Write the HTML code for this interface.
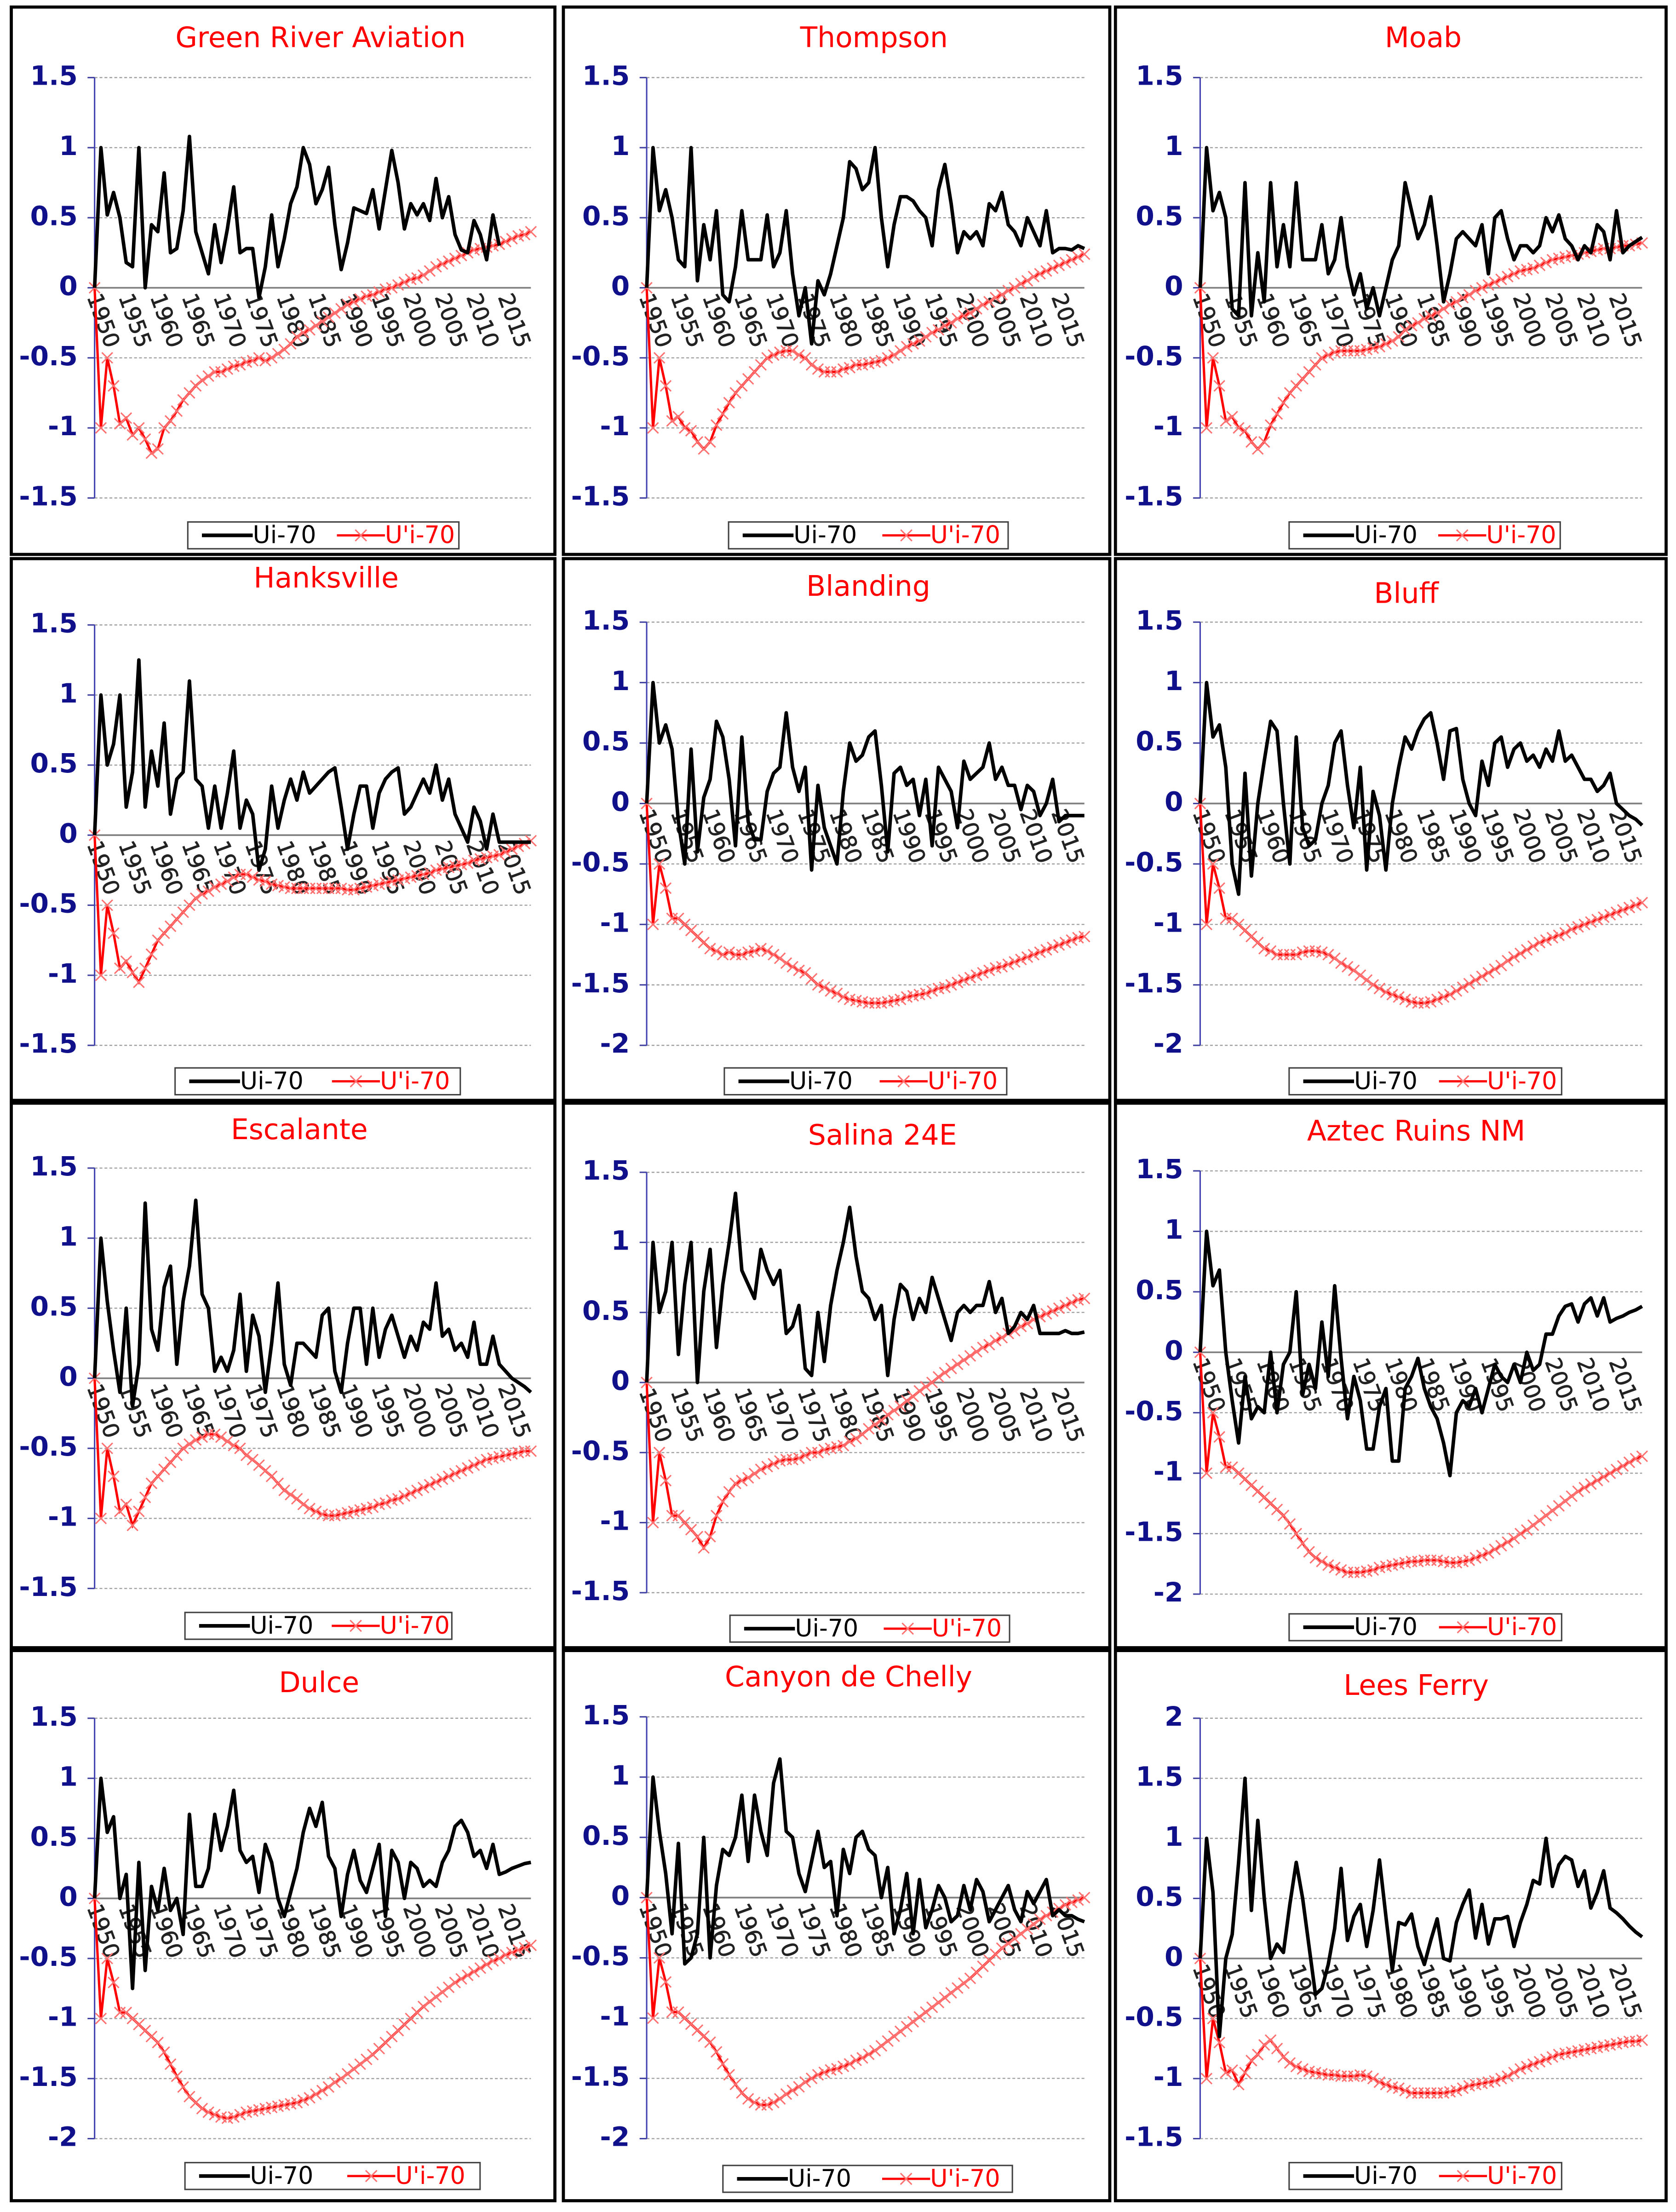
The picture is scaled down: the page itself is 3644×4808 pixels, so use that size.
<!DOCTYPE html>
<html><head><meta charset="utf-8"><style>
html,body{margin:0;padding:0;background:#fff;}
svg{display:block;}
text{font-family:"DejaVu Sans","Liberation Sans",sans-serif;}
</style></head><body>
<svg id="fig" xmlns="http://www.w3.org/2000/svg" width="3644" height="4808" viewBox="0 0 1187 1568" preserveAspectRatio="none"></svg>
<script>
const years = [];
for (let y = 1949; y <= 2018; y++) years.push(y);
const yearTickLabels = ["1950","1955","1960","1965","1970","1975","1980","1985","1990","1995","2000","2005","2010","2015"];
const stationNames = ["Green River Aviation","Thompson","Moab","Hanksville","Blanding","Bluff","Escalante","Salina 24E","Aztec Ruins NM","Dulce","Canyon de Chelly","Lees Ferry"];
const seriesNames = ["Ui-70","U'i-70"];

const ui_greenRiver = [0,1.0,0.52,0.68,0.5,0.18,0.15,1.0,0.0,0.45,0.4,0.82,0.25,0.28,0.55,1.08,0.4,0.25,0.1,0.45,0.18,0.42,0.72,0.25,0.28,0.28,-0.07,0.15,0.52,0.15,0.35,0.6,0.72,1.0,0.88,0.6,0.7,0.86,0.45,0.13,0.32,0.57,0.55,0.53,0.7,0.42,0.7,0.98,0.75,0.42,0.6,0.52,0.6,0.48,0.78,0.5,0.65,0.38,0.27,0.25,0.48,0.38,0.2,0.52,0.3];
const up_greenRiver = [0,-1,-0.5,-0.7,-0.97,-0.93,-1.05,-1.0,-1.08,-1.18,-1.15,-1.0,-0.95,-0.88,-0.8,-0.75,-0.7,-0.66,-0.63,-0.6,-0.6,-0.58,-0.56,-0.55,-0.53,-0.52,-0.5,-0.52,-0.5,-0.47,-0.44,-0.4,-0.35,-0.32,-0.3,-0.27,-0.24,-0.21,-0.18,-0.15,-0.12,-0.1,-0.08,-0.06,-0.05,-0.03,-0.01,0.0,0.02,0.04,0.06,0.07,0.09,0.12,0.15,0.17,0.19,0.21,0.23,0.25,0.27,0.28,0.29,0.3,0.31,0.33,0.35,0.37,0.38,0.4];
const ui_thompson = [0,1,0.55,0.7,0.5,0.2,0.15,1.0,0.05,0.45,0.2,0.55,-0.05,-0.1,0.15,0.55,0.2,0.2,0.2,0.52,0.15,0.25,0.55,0.1,-0.2,0.0,-0.4,0.05,-0.05,0.1,0.3,0.5,0.9,0.85,0.7,0.75,1.0,0.5,0.15,0.45,0.65,0.65,0.62,0.55,0.5,0.3,0.7,0.88,0.6,0.25,0.4,0.35,0.4,0.3,0.6,0.55,0.68,0.45,0.4,0.3,0.5,0.4,0.3,0.55,0.25,0.28,0.28,0.27,0.3,0.28];
const up_thompson = [0,-1,-0.5,-0.7,-0.95,-0.92,-1.0,-1.02,-1.1,-1.15,-1.1,-0.98,-0.9,-0.82,-0.75,-0.7,-0.65,-0.6,-0.55,-0.5,-0.48,-0.46,-0.45,-0.45,-0.48,-0.5,-0.55,-0.58,-0.6,-0.6,-0.6,-0.58,-0.57,-0.55,-0.55,-0.54,-0.53,-0.52,-0.5,-0.48,-0.45,-0.42,-0.4,-0.38,-0.35,-0.32,-0.3,-0.27,-0.25,-0.22,-0.2,-0.18,-0.15,-0.12,-0.1,-0.07,-0.05,-0.02,0.0,0.03,0.05,0.08,0.1,0.12,0.14,0.16,0.18,0.2,0.22,0.24];
const ui_moab = [0,1,0.55,0.68,0.5,-0.15,-0.2,0.75,-0.2,0.25,-0.1,0.75,0.15,0.45,0.15,0.75,0.2,0.2,0.2,0.45,0.1,0.2,0.5,0.15,-0.05,0.1,-0.15,0.0,-0.2,0.0,0.2,0.3,0.75,0.55,0.35,0.45,0.65,0.3,-0.1,0.1,0.35,0.4,0.35,0.3,0.45,0.1,0.5,0.55,0.35,0.2,0.3,0.3,0.25,0.3,0.5,0.4,0.52,0.35,0.3,0.2,0.3,0.25,0.45,0.4,0.2,0.55,0.25,0.3,0.33,0.36];
const up_moab = [0,-1,-0.5,-0.7,-0.95,-0.92,-1.0,-1.02,-1.1,-1.15,-1.1,-0.98,-0.9,-0.82,-0.75,-0.7,-0.65,-0.6,-0.55,-0.5,-0.48,-0.46,-0.45,-0.45,-0.45,-0.45,-0.44,-0.43,-0.42,-0.4,-0.38,-0.35,-0.3,-0.27,-0.25,-0.22,-0.2,-0.18,-0.15,-0.12,-0.1,-0.07,-0.05,-0.02,0.0,0.02,0.04,0.06,0.08,0.1,0.12,0.13,0.14,0.16,0.18,0.2,0.21,0.22,0.23,0.24,0.25,0.26,0.27,0.28,0.28,0.29,0.3,0.3,0.31,0.32];
const ui_hanksville = [0,1,0.5,0.65,1.0,0.2,0.45,1.25,0.2,0.6,0.35,0.8,0.15,0.4,0.45,1.1,0.4,0.35,0.05,0.35,0.05,0.3,0.6,0.05,0.25,0.15,-0.25,-0.1,0.35,0.05,0.25,0.4,0.25,0.45,0.3,0.35,0.4,0.45,0.48,0.2,-0.1,0.15,0.35,0.35,0.05,0.3,0.4,0.45,0.48,0.15,0.2,0.3,0.4,0.3,0.5,0.25,0.4,0.15,0.05,-0.05,0.2,0.1,-0.1,0.15,-0.05,-0.05,-0.05,-0.05,-0.05,-0.05];
const up_hanksville = [0,-1,-0.5,-0.7,-0.95,-0.9,-0.98,-1.05,-0.95,-0.85,-0.75,-0.7,-0.65,-0.6,-0.55,-0.5,-0.45,-0.42,-0.4,-0.37,-0.35,-0.33,-0.3,-0.28,-0.28,-0.3,-0.32,-0.33,-0.35,-0.36,-0.37,-0.38,-0.38,-0.38,-0.38,-0.38,-0.38,-0.38,-0.38,-0.38,-0.39,-0.39,-0.38,-0.37,-0.36,-0.35,-0.34,-0.33,-0.32,-0.31,-0.3,-0.29,-0.28,-0.27,-0.25,-0.24,-0.23,-0.22,-0.21,-0.2,-0.18,-0.17,-0.16,-0.15,-0.14,-0.12,-0.1,-0.08,-0.06,-0.04];
const ui_blanding = [0,1,0.5,0.65,0.45,-0.15,-0.5,0.45,-0.4,0.05,0.2,0.68,0.55,0.2,-0.35,0.55,-0.15,-0.3,-0.3,0.1,0.25,0.3,0.75,0.3,0.1,0.3,-0.55,0.15,-0.2,-0.35,-0.5,0.1,0.5,0.35,0.4,0.55,0.6,0.15,-0.4,0.25,0.3,0.15,0.2,-0.1,0.2,-0.35,0.3,0.2,0.1,-0.2,0.35,0.2,0.25,0.3,0.5,0.2,0.3,0.15,0.15,-0.05,0.15,0.1,-0.1,0.0,0.2,-0.15,-0.1,-0.1,-0.1,-0.1];
const up_blanding = [0,-1,-0.5,-0.7,-0.95,-0.95,-1.0,-1.05,-1.1,-1.15,-1.2,-1.22,-1.25,-1.23,-1.25,-1.25,-1.23,-1.22,-1.2,-1.22,-1.25,-1.28,-1.32,-1.35,-1.38,-1.4,-1.45,-1.5,-1.52,-1.55,-1.57,-1.6,-1.62,-1.63,-1.64,-1.65,-1.65,-1.65,-1.64,-1.63,-1.62,-1.6,-1.59,-1.58,-1.57,-1.55,-1.53,-1.52,-1.5,-1.48,-1.46,-1.44,-1.42,-1.4,-1.38,-1.36,-1.35,-1.33,-1.31,-1.29,-1.27,-1.25,-1.23,-1.21,-1.19,-1.17,-1.15,-1.13,-1.11,-1.1];
const ui_bluff = [0,1,0.55,0.65,0.3,-0.5,-0.75,0.25,-0.6,0.0,0.35,0.68,0.6,0.0,-0.5,0.55,-0.2,-0.35,-0.3,0.0,0.15,0.5,0.6,0.15,-0.2,0.3,-0.55,0.1,-0.1,-0.55,0.0,0.3,0.55,0.45,0.6,0.7,0.75,0.5,0.2,0.6,0.62,0.2,0.0,-0.1,0.35,0.15,0.5,0.55,0.3,0.45,0.5,0.35,0.4,0.3,0.45,0.35,0.6,0.35,0.4,0.3,0.2,0.2,0.1,0.15,0.25,0.0,-0.05,-0.1,-0.13,-0.18];
const up_bluff = [0,-1,-0.5,-0.7,-0.95,-0.95,-1.0,-1.05,-1.1,-1.15,-1.2,-1.22,-1.25,-1.25,-1.25,-1.25,-1.23,-1.22,-1.22,-1.23,-1.25,-1.28,-1.32,-1.35,-1.38,-1.42,-1.46,-1.5,-1.53,-1.56,-1.58,-1.6,-1.62,-1.64,-1.65,-1.65,-1.64,-1.62,-1.6,-1.58,-1.55,-1.52,-1.49,-1.46,-1.43,-1.4,-1.37,-1.34,-1.3,-1.27,-1.24,-1.21,-1.18,-1.15,-1.13,-1.11,-1.09,-1.07,-1.04,-1.02,-1.0,-0.98,-0.96,-0.94,-0.92,-0.9,-0.88,-0.86,-0.84,-0.82];
const ui_escalante = [0,1,0.55,0.2,-0.1,0.5,-0.2,0.1,1.25,0.35,0.2,0.65,0.8,0.1,0.55,0.8,1.27,0.6,0.5,0.05,0.15,0.05,0.2,0.6,0.05,0.45,0.3,-0.1,0.25,0.68,0.1,-0.05,0.25,0.25,0.2,0.15,0.45,0.5,0.05,-0.1,0.25,0.5,0.5,0.1,0.5,0.15,0.35,0.45,0.3,0.15,0.3,0.2,0.4,0.35,0.68,0.3,0.35,0.2,0.25,0.15,0.4,0.1,0.1,0.3,0.1,0.05,0.0,-0.03,-0.06,-0.1];
const up_escalante = [0,-1,-0.5,-0.7,-0.95,-0.9,-1.05,-0.95,-0.85,-0.75,-0.7,-0.65,-0.6,-0.55,-0.5,-0.47,-0.44,-0.42,-0.4,-0.4,-0.42,-0.45,-0.48,-0.5,-0.55,-0.58,-0.62,-0.66,-0.7,-0.75,-0.8,-0.83,-0.86,-0.9,-0.93,-0.95,-0.97,-0.98,-0.98,-0.97,-0.96,-0.95,-0.94,-0.93,-0.92,-0.9,-0.89,-0.87,-0.86,-0.84,-0.82,-0.8,-0.78,-0.76,-0.74,-0.72,-0.7,-0.68,-0.66,-0.64,-0.62,-0.6,-0.58,-0.57,-0.56,-0.55,-0.54,-0.53,-0.52,-0.52];
const ui_salina = [0,1,0.5,0.65,1.0,0.2,0.7,1.0,0.0,0.65,0.95,0.25,0.7,1.0,1.35,0.8,0.7,0.6,0.95,0.8,0.7,0.8,0.35,0.4,0.55,0.1,0.05,0.5,0.15,0.55,0.8,1.0,1.25,0.9,0.65,0.6,0.45,0.55,0.05,0.45,0.7,0.65,0.45,0.6,0.5,0.75,0.6,0.45,0.3,0.5,0.55,0.5,0.55,0.55,0.72,0.5,0.6,0.35,0.4,0.5,0.45,0.55,0.35,0.35,0.35,0.35,0.37,0.35,0.35,0.36];
const up_salina = [0,-1,-0.5,-0.7,-0.95,-0.95,-1.0,-1.05,-1.1,-1.18,-1.1,-0.95,-0.85,-0.78,-0.72,-0.7,-0.68,-0.65,-0.62,-0.6,-0.58,-0.56,-0.55,-0.55,-0.54,-0.52,-0.5,-0.5,-0.48,-0.47,-0.46,-0.45,-0.42,-0.4,-0.37,-0.33,-0.3,-0.27,-0.23,-0.2,-0.17,-0.13,-0.1,-0.06,-0.03,0.0,0.04,0.07,0.1,0.13,0.16,0.19,0.22,0.25,0.27,0.3,0.32,0.35,0.37,0.4,0.42,0.45,0.47,0.49,0.51,0.53,0.55,0.57,0.59,0.6];
const ui_aztec = [0,1,0.55,0.68,0.0,-0.4,-0.75,-0.2,-0.55,-0.45,-0.5,0.0,-0.5,-0.1,0.0,0.5,-0.35,-0.1,-0.3,0.25,-0.2,0.55,-0.05,-0.55,-0.2,-0.4,-0.8,-0.8,-0.45,-0.3,-0.9,-0.9,-0.3,-0.2,-0.05,-0.3,-0.45,-0.55,-0.75,-1.02,-0.5,-0.4,-0.45,-0.3,-0.5,-0.3,-0.1,-0.2,-0.25,-0.1,-0.25,0.0,-0.15,-0.1,0.15,0.15,0.3,0.38,0.4,0.25,0.4,0.45,0.3,0.45,0.25,0.28,0.3,0.33,0.35,0.38];
const up_aztec = [0,-1,-0.5,-0.7,-0.95,-0.95,-1.0,-1.05,-1.1,-1.15,-1.2,-1.25,-1.3,-1.35,-1.42,-1.5,-1.58,-1.65,-1.7,-1.73,-1.76,-1.78,-1.8,-1.82,-1.82,-1.82,-1.81,-1.8,-1.78,-1.77,-1.76,-1.75,-1.74,-1.73,-1.73,-1.72,-1.72,-1.72,-1.73,-1.74,-1.74,-1.73,-1.72,-1.7,-1.68,-1.66,-1.63,-1.6,-1.57,-1.54,-1.5,-1.47,-1.43,-1.39,-1.35,-1.31,-1.27,-1.23,-1.19,-1.15,-1.12,-1.09,-1.06,-1.03,-1.0,-0.97,-0.94,-0.91,-0.88,-0.86];
const ui_dulce = [0,1,0.55,0.68,0.0,0.2,-0.75,0.3,-0.6,0.1,-0.1,0.25,-0.1,0.0,-0.3,0.7,0.1,0.1,0.25,0.7,0.4,0.6,0.9,0.4,0.3,0.35,0.05,0.45,0.3,0.0,-0.15,0.05,0.25,0.55,0.75,0.6,0.8,0.35,0.25,-0.15,0.2,0.4,0.15,0.05,0.25,0.45,-0.15,0.4,0.3,0.0,0.3,0.25,0.1,0.15,0.1,0.3,0.4,0.6,0.65,0.55,0.35,0.4,0.25,0.45,0.2,0.22,0.25,0.27,0.29,0.3];
const up_dulce = [0,-1,-0.5,-0.7,-0.95,-0.95,-1.0,-1.05,-1.1,-1.15,-1.2,-1.28,-1.38,-1.48,-1.57,-1.65,-1.7,-1.75,-1.78,-1.8,-1.82,-1.83,-1.82,-1.8,-1.78,-1.77,-1.76,-1.75,-1.74,-1.73,-1.72,-1.71,-1.7,-1.68,-1.66,-1.63,-1.6,-1.57,-1.53,-1.5,-1.46,-1.42,-1.38,-1.34,-1.3,-1.25,-1.2,-1.15,-1.1,-1.05,-1.0,-0.95,-0.9,-0.86,-0.82,-0.78,-0.74,-0.7,-0.67,-0.64,-0.61,-0.58,-0.55,-0.52,-0.5,-0.47,-0.45,-0.43,-0.41,-0.39];
const ui_canyon = [0,1,0.55,0.2,-0.3,0.45,-0.55,-0.5,-0.3,0.5,-0.5,0.1,0.4,0.35,0.5,0.85,0.3,0.85,0.55,0.35,0.95,1.15,0.55,0.5,0.2,0.05,0.3,0.55,0.25,0.3,-0.15,0.4,0.2,0.5,0.55,0.4,0.35,0.0,0.25,-0.3,-0.1,0.2,-0.3,0.15,-0.25,-0.1,0.1,0.0,-0.2,-0.15,0.1,-0.1,0.15,0.05,-0.2,-0.1,0.0,0.1,-0.1,-0.2,0.05,-0.05,0.05,0.15,-0.15,-0.1,-0.15,-0.15,-0.18,-0.2];
const up_canyon = [0,-1,-0.5,-0.7,-0.95,-0.95,-1.0,-1.05,-1.1,-1.15,-1.2,-1.28,-1.38,-1.47,-1.55,-1.62,-1.67,-1.7,-1.72,-1.72,-1.7,-1.67,-1.63,-1.6,-1.57,-1.53,-1.5,-1.47,-1.45,-1.43,-1.42,-1.4,-1.38,-1.35,-1.33,-1.3,-1.27,-1.23,-1.19,-1.15,-1.11,-1.07,-1.03,-0.99,-0.95,-0.91,-0.87,-0.83,-0.79,-0.75,-0.71,-0.67,-0.62,-0.57,-0.52,-0.47,-0.42,-0.38,-0.34,-0.3,-0.26,-0.22,-0.18,-0.15,-0.12,-0.09,-0.06,-0.04,-0.02,0.0];
const ui_leesFerry = [0,1,0.55,-0.65,0.0,0.2,0.8,1.5,0.4,1.15,0.5,0.0,0.12,0.05,0.45,0.8,0.5,0.1,-0.3,-0.25,-0.05,0.25,0.75,0.15,0.35,0.45,0.1,0.4,0.82,0.35,-0.1,0.3,0.28,0.37,0.1,-0.05,0.15,0.33,0.0,-0.02,0.3,0.45,0.57,0.17,0.45,0.12,0.33,0.33,0.35,0.1,0.3,0.45,0.65,0.62,1.0,0.6,0.78,0.85,0.82,0.6,0.73,0.42,0.55,0.73,0.42,0.38,0.33,0.27,0.22,0.18];
const up_leesFerry = [0,-1,-0.5,-0.7,-0.95,-0.93,-1.05,-0.95,-0.85,-0.8,-0.72,-0.68,-0.75,-0.82,-0.87,-0.9,-0.92,-0.94,-0.95,-0.96,-0.97,-0.97,-0.98,-0.98,-0.98,-0.97,-0.98,-1.0,-1.03,-1.05,-1.07,-1.08,-1.1,-1.12,-1.12,-1.12,-1.12,-1.12,-1.12,-1.11,-1.1,-1.08,-1.06,-1.05,-1.04,-1.03,-1.02,-1.0,-0.98,-0.95,-0.92,-0.9,-0.88,-0.86,-0.84,-0.82,-0.8,-0.79,-0.78,-0.77,-0.76,-0.75,-0.74,-0.73,-0.72,-0.71,-0.7,-0.69,-0.69,-0.68];

const uiSeries = [ui_greenRiver,ui_thompson,ui_moab,ui_hanksville,ui_blanding,ui_bluff,ui_escalante,ui_salina,ui_aztec,ui_dulce,ui_canyon,ui_leesFerry];
const upSeries = [up_greenRiver,up_thompson,up_moab,up_hanksville,up_blanding,up_bluff,up_escalante,up_salina,up_aztec,up_dulce,up_canyon,up_leesFerry];
const yMins = [-1.5,-1.5,-1.5,-1.5,-2,-2,-1.5,-1.5,-2,-2,-2,-1.5];
const yMaxs = [1.5,1.5,1.5,1.5,1.5,1.5,1.5,1.5,1.5,1.5,1.5,2];

// layout (pixel geometry, not data)
const panelBoxes = [[8,5,385,388],[399,5,387,388],[790,5,390,388],[8,396,385,384],[399,396,387,384],[790,396,390,384],[8,782,385,386],[399,782,387,386],[790,782,390,386],[8,1170,385,390],[399,1170,387,390],[790,1170,390,390]];
const plotX = [[67,376],[458,768],[850,1163]];
const plotY = [[55,353],[55,353],[55,353],[443,741],[441,741],[441,741],[828,1126],[831,1129],[830,1130],[1218,1516],[1217,1516],[1218,1516]];
const titlePos = [[227,28],[619,28],[1008,28],[231,411],[615,417],[996,422],[212,802],[625,806],[1003,803],[226,1194],[601,1190],[1003,1196]];
const legendPos = [[133,370,192],[516,370,198],[913,370,192],[124,757,202],[513,757,200],[913,757,193],[131,1143,189],[517,1145,198],[913,1144,193],[131,1533,209],[512,1535,205],[913,1533,193]];

const NS = "http://www.w3.org/2000/svg";
const svg = document.getElementById("fig");
function el(tag, attrs, parent) {
  const e = document.createElementNS(NS, tag);
  for (const k in attrs) e.setAttribute(k, attrs[k]);
  (parent || svg).appendChild(e);
  return e;
}

for (let p = 0; p < 12; p++) {
  const col = p % 3;
  const g = el("g", {});
  
  
  const b = panelBoxes[p];
  const frame = el("rect", {x:b[0], y:b[1], width:b[2], height:b[3], fill:"#fff", stroke:"#000", "stroke-width":2.2}, g);
  
  

  const x0 = plotX[col][0], x1 = plotX[col][1];
  const yTop = plotY[p][0], yBot = plotY[p][1];
  const ymin = yMins[p], ymax = yMaxs[p];
  const yScale = v => yTop + (ymax - v) / (ymax - ymin) * (yBot - yTop);
  const n = years.length;
  const xScale = i => x0 + i * (x1 - x0) / (n - 1);

  const t = el("text", {x:titlePos[p][0], y:titlePos[p][1], "text-anchor":"middle", "dominant-baseline":"middle", fill:"#ff0000", "font-size":20}, g);
  t.textContent = stationNames[p];
  
  

  for (let v = ymin; v <= ymax + 1e-9; v += 0.5) {
    const yy = yScale(v);
    if (Math.abs(v) > 1e-9) {
      const gl = el("line", {x1:x0, x2:x1, y1:yy, y2:yy, stroke:"#a0a0a0", "stroke-width":0.8, "stroke-dasharray":"2,1.5"}, g);
      
      
    }
    el("line", {x1:x0-5, x2:x0, y1:yy, y2:yy, stroke:"#4040a0", "stroke-width":1}, g);
    const lab = el("text", {x:x0-12, y:yy, "text-anchor":"end", "dominant-baseline":"middle", fill:"#10108a", "font-size":19, "font-weight":"bold"}, g);
    lab.textContent = String(Math.round(v * 10) / 10);
    
    
  }
  const ya = el("line", {x1:x0, x2:x0, y1:yTop, y2:yBot, stroke:"#4040b0", "stroke-width":1}, g);
  
  
  const zy = yScale(0);
  const xa = el("line", {x1:x0, x2:x1, y1:zy, y2:zy, stroke:"#808080", "stroke-width":1.2}, g);
  
  

  for (const lbl of yearTickLabels) {
    const i = years.indexOf(parseInt(lbl));
    const xx = xScale(i) - 6;
    const tx = el("text", {x:0, y:0, transform:`translate(${xx},${zy+5}) rotate(70)`, fill:"#222", stroke:"#222", "stroke-width":0.3, "font-size":15.5, "dominant-baseline":"middle"}, g);
    tx.textContent = lbl;
    
    
  }

  const up = upSeries[p];
  let d2 = "";
  up.forEach((v, i) => { d2 += (i ? "L" : "M") + xScale(i).toFixed(2) + "," + yScale(v).toFixed(2); });
  const rl = el("path", {d:d2, fill:"none", stroke:"#ff0000", "stroke-width":1.7}, g);
  
  
  let dm = "";
  up.forEach((v, i) => { const cx = xScale(i), cy = yScale(v), s = 3.8;
    dm += `M${cx-s},${cy-s}L${cx+s},${cy+s}M${cx-s},${cy+s}L${cx+s},${cy-s}`; });
  const mk = el("path", {d:dm, fill:"none", stroke:"#ff7070", "stroke-width":1}, g);
  
  

  const ui = uiSeries[p];
  let d1 = "";
  ui.forEach((v, i) => { d1 += (i ? "L" : "M") + xScale(i).toFixed(2) + "," + yScale(v).toFixed(2); });
  const bl = el("path", {d:d1, fill:"none", stroke:"#000", "stroke-width":2.5, "stroke-linejoin":"round"}, g);
  
  

  const L = legendPos[p];
  const lg = el("g", {}, g);
  
  
  el("rect", {x:L[0], y:L[1], width:L[2], height:19, fill:"#fff", stroke:"#404040", "stroke-width":1}, lg);
  const w = L[2];
  const cy = L[1] + 9.5;
  const e1 = el("g", {}, lg);
  
  
  el("line", {x1:L[0]+10, x2:L[0]+46, y1:cy, y2:cy, stroke:"#000", "stroke-width":2.6}, e1);
  const lt1 = el("text", {x:L[0]+46, y:cy+1, "dominant-baseline":"middle", "font-size":17, fill:"#000"}, e1);
  lt1.textContent = seriesNames[0];
  const e2 = el("g", {}, lg);
  
  
  const sx = L[0] + w*0.55;
  el("line", {x1:sx, x2:sx+34, y1:cy, y2:cy, stroke:"#ff0000", "stroke-width":1.6}, e2);
  el("path", {d:`M${sx+13},${cy-4}L${sx+21},${cy+4}M${sx+13},${cy+4}L${sx+21},${cy-4}`, stroke:"#ff7070", "stroke-width":1}, e2);
  const lt2 = el("text", {x:sx+34, y:cy+1, "dominant-baseline":"middle", "font-size":17, fill:"#ff0000"}, e2);
  lt2.textContent = seriesNames[1];
}
</script>
</body></html>
